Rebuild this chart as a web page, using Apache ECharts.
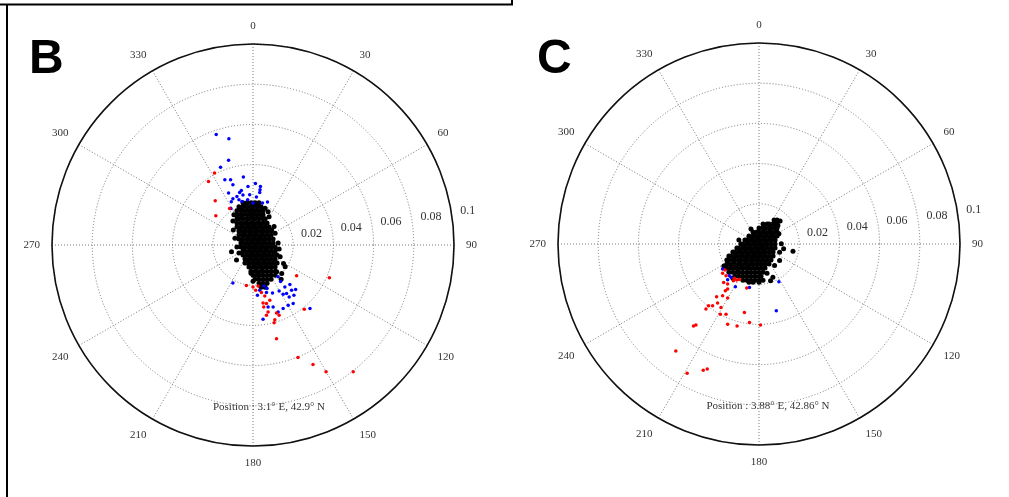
<!DOCTYPE html>
<html>
<head>
<meta charset="utf-8">
<script src="https://cdn.jsdelivr.net/npm/echarts@6/dist/echarts.min.js"></script>
<style>
html, body { margin:0; padding:0; background:#fff; }
#main { width:1009px; height:497px; }
</style>
</head>
<body>
<div id="main"></div>
<script>
// all offsets are [east, north] in units of 0.001
// panel B dense cloud, one row per north value: [north, [east values]]
var bBlackRows = [
    [21, [-5,-3,-1,1,3]],
    [19, [-7,-5,-3,-1,0,2,4]],
    [17, [-8,-6,-4,-2,-1,1,3,5]],
    [15, [-8,-6,-5,-3,-1,0,2,4,5]],
    [13, [-8,-7,-5,-3,-2,0,1,3,5,6]],
    [11, [-8,-6,-4,-3,-1,0,2,3,5,7]],
    [9, [-8,-6,-5,-3,-2,0,1,3,4,6,8]],
    [7, [-7,-6,-4,-2,-1,1,2,4,5,7,9]],
    [5, [-7,-5,-4,-2,-1,1,2,4,5,7,9]],
    [3, [-7,-5,-3,-2,0,1,3,4,6,8,10]],
    [1, [-6,-5,-3,-1,0,2,3,5,6,8,10]],
    [-1, [-6,-4,-2,-1,1,2,4,5,7,9,11]],
    [-3, [-5,-4,-2,0,1,3,4,6,7,9,11]],
    [-5, [-5,-3,-1,0,2,3,5,6,8,10,12]],
    [-7, [-4,-2,-1,1,2,4,5,7,9,11]],
    [-9, [-3,-2,0,2,3,5,6,8,10,12]],
    [-11, [-2,0,1,3,4,6,7,9,11]],
    [-13, [-1,1,2,4,5,7,9,11]],
    [-15, [0,2,3,5,7,9,11]],
    [-17, [1,3,5,7,9]],
    [-19, [3,5,7]],
    [-21, [4,6]]
];
var bBlackSparse = [
    [-10.7,-3.3], [-8.2,-7.5], [15.2,-9.2], [16,-10.8], [14.3,-14.2], [10.5,9.2],
    [9.3,7.5], [11,5.8], [-6.5,18.3], [-4,20], [1.8,20.8], [6,18.3], [-9.8,7.5],
    [-9,3.3], [13.5,-5.8], [11.8,-13.3], [-10,12], [8,14], [13,-2], [-7,-4],
    [-9.5,15], [7.5,16.5], [-8,-1], [12.5,1], [14,-17], [0,-18], [-4,-9], [-1,-14]
];
var bBlue = [
    [-18.3,55], [-12,52.9], [-12.15,42.15], [-16.15,38.65], [-14,32.5], [-11.15,32.5],
    [-10,30], [-4.8,33.85], [1.2,30.65], [3.7,29.15], [3.5,27.5], [3.35,26.15],
    [-2.5,29.15], [-5.8,27.15], [-6.65,26.15], [-8,24.15], [-7,22.5], [-5.5,21.65],
    [-5,24.85], [-10.8,21.5], [-10,23], [-12.15,25.85], [-11,18.15], [-1.65,25],
    [-2.65,22.5], [0,20.85], [1.7,23.85], [4.7,20.85], [7.2,21.35], [-10,-18.85],
    [5.5,-20.35], [7,-21.65], [6.7,-23.65], [9.7,-23.85], [12.5,-15.85], [13.7,-18.15],
    [15.85,-20.85], [13,-22.85], [15,-24.5], [16.7,-24.15], [18,-25.85], [19.2,-22.5],
    [20.35,-25], [21.2,-22.15], [20,-29.15], [17.5,-30], [15,-31.65], [12.5,-33.35],
    [10,-30.85], [7.5,-30.85], [5,-37], [28.35,-31.65], [18.35,-19.65], [3.35,-22.5],
    [2.2,-25]
];
var bRed = [
    [-19.15,35.85], [-22.15,31.65], [-18.8,22], [-18.5,14.5], [-11.65,18.15],
    [-3.3,-20.15], [0,-20.85], [2.5,-20.35], [1.35,-22.5], [4.2,-23.65], [5.85,-25.35],
    [5,-28.85], [6.7,-29.15], [5.35,-30.85], [7.5,-33.35], [6.7,-35], [11.7,-33.85],
    [13,-35], [10.85,-37.15], [10.5,-38.65], [11.7,-46.65], [21.7,-15.35], [38,-16.35],
    [25.5,-32], [8.35,-27.5], [22.35,-56], [29.85,-59.5], [36.35,-63], [49.85,-63]
];

// panel C
var cBlackRows = [
    [12, [7.5,9]],
    [10, [2,4,5,7,9]],
    [8, [0,2,3,5,6,8,9]],
    [6, [-3,-1,0,2,3,5,6,8,9]],
    [4, [-5,-3,-2,0,1,3,4,6,7,9]],
    [2, [-7,-6,-4,-3,-1,0,2,3,5,6,8]],
    [0, [-9,-8,-6,-5,-3,-2,0,1,3,4,6,8]],
    [-2, [-11,-10,-8,-7,-5,-4,-2,-1,1,2,4,6,8]],
    [-4, [-13,-12,-10,-9,-7,-6,-4,-3,-1,0,2,3,5,7]],
    [-6, [-15,-14,-12,-11,-9,-8,-6,-5,-3,-2,0,1,3,5,7]],
    [-8, [-16,-15,-13,-12,-10,-9,-7,-6,-4,-3,-1,0,2,4,6]],
    [-10, [-16,-15,-13,-12,-10,-9,-7,-6,-4,-3,-1,1,3,5]],
    [-12, [-16,-14,-12,-11,-9,-8,-6,-5,-3,-1,1,3]],
    [-14, [-15,-13,-11,-10,-8,-6,-4,-2,0,2]],
    [-16, [-12,-10,-8,-6,-4,-2,0,1]],
    [-18, [-8,-6,-4,-2,0,2]],
    [-19, [-5,-3,0]]
];
var cBlackSparse = [
    [16.9,-3.6], [10.25,-4.1], [12.25,-2.4], [7.75,-10.75], [6.9,-16.6], [5.75,-18.25],
    [8.9,10.9], [9.4,9.25], [11.1,0.1], [10.25,-8.25], [9.9,5.1], [-4,7.5], [-10,2],
    [-17.5,-11], [-13,-17], [4,-14.5], [10.5,11.5]
];
var cBlue = [
    [-18.1,-12.4], [-14.75,-15.75], [-13.9,-16.6], [-15.6,-17.75], [-11.75,-21.25],
    [-4.75,-21.6], [9.9,-18.75], [8.6,-33.25]
];
var cRed = [
    [-16.9,-12.9], [-18.1,-14.6], [-16.4,-15.75], [-17.6,-19.1], [-15.6,-19.9],
    [-12.75,-18.25], [-11.1,-17.9], [-12.25,-17.1], [-9.75,-17.6], [-6.1,-21.9],
    [-15.6,-22.4], [-16.75,-23.25], [-18.1,-25.75], [-15.6,-26.9], [-21.1,-26.25],
    [-23.1,-30.75], [-25.1,-30.75], [-26.4,-32.4], [-20.6,-29.4], [-18.9,-31.6],
    [-19.25,-34.9], [-16.4,-34.9], [-7.25,-34.1], [-4.75,-39.1], [0.75,-40.25],
    [-10.9,-40.75], [-15.6,-39.9], [-32.6,-40.75], [-31.4,-40.25], [-41.4,-53.25],
    [-35.75,-64.25], [-27.75,-62.75], [-25.75,-62.25]
];

var positionB = 'Position : 3.1° E, 42.9° N';
var positionC = 'Position : 3.88° E, 42.86° N';

var expandRows = function(rows){
    var out = [];
    rows.forEach(function(r){
        r[1].forEach(function(e){ out.push([e, r[0]]); });
    });
    return out;
};

// [east, north] -> [radius, compass angle]
var toPolar = function(pts){
    return pts.map(function(p){
        var e = p[0] / 1000, n = p[1] / 1000;
        var a = Math.atan2(e, n) * 180 / Math.PI;
        if (a < 0) a += 360;
        return [Math.sqrt(e * e + n * n), a];
    });
};

var centers = [[253, 245], [759, 244]];
var R = 201;
var serif = 'Liberation Serif';

var polars = [], angleAxes = [], radiusAxes = [];
centers.forEach(function(c, i){
    polars.push({ center: [c[0], c[1]], radius: R });
    angleAxes.push({
        polarIndex: i, type: 'value', min: 0, max: 360, interval: 30,
        startAngle: 90, clockwise: true,
        axisLine: { lineStyle: { color: '#111', width: 1.6 } },
        axisTick: { show: false },
        axisLabel: {
            margin: 12, color: '#333', fontFamily: serif, fontSize: 11, showMaxLabel: false,
            align: 'center', verticalAlign: 'middle'
        },
        splitLine: { lineStyle: { color: '#777', width: 1, type: [1, 2] } }
    });
    radiusAxes.push({
        polarIndex: i, type: 'value', min: 0, max: 0.1, interval: 0.02,
        axisLine: { show: false }, axisTick: { show: false }, axisLabel: { show: false },
        splitLine: { lineStyle: { color: '#777', width: 1, type: [1, 2] } }
    });
});
// second polar per panel only for the radius labels (tilted a bit above east)
centers.forEach(function(c, i){
    polars.push({ center: [c[0], c[1]], radius: R });
    angleAxes.push({
        polarIndex: i + 2, type: 'value', min: 0, max: 360, startAngle: 8, show: false
    });
    radiusAxes.push({
        polarIndex: i + 2, type: 'value', min: 0, max: 0.1, interval: 0.02,
        axisLine: { show: false }, axisTick: { show: false }, splitLine: { show: false },
        axisLabel: {
            showMinLabel: false, color: '#333', fontFamily: serif, fontSize: 12,
            margin: 6, align: 'left', padding: [0, 0, 0, 9]
        }
    });
});

var mk = function(idx, data, color, size){
    return {
        type: 'scatter', coordinateSystem: 'polar', polarIndex: idx,
        data: toPolar(data), symbol: 'circle', symbolSize: size,
        itemStyle: { color: color, opacity: 1 }, silent: true
    };
};

var series = [
    mk(0, expandRows(bBlackRows).concat(bBlackSparse), '#000', 5),
    mk(0, bBlue, '#0000ff', 3.5),
    mk(0, bRed, '#ff0000', 3.5),
    mk(1, expandRows(cBlackRows).concat(cBlackSparse), '#000', 5),
    mk(1, cBlue, '#0000ff', 3.5),
    mk(1, cRed, '#ff0000', 3.5)
];

var myChart = echarts.init(document.getElementById('main'));
option = {
    backgroundColor: '#fff',
    animation: false,
    polar: polars,
    angleAxis: angleAxes,
    radiusAxis: radiusAxes,
    series: series,
    graphic: [
        { type: 'line', shape: { x1: 0, y1: 4.5, x2: 513, y2: 4.5 }, style: { stroke: '#000', lineWidth: 2 } },
        { type: 'line', shape: { x1: 512, y1: 0, x2: 512, y2: 5 }, style: { stroke: '#000', lineWidth: 2 } },
        { type: 'line', shape: { x1: 7, y1: 4, x2: 7, y2: 497 }, style: { stroke: '#000', lineWidth: 2 } },
        { type: 'text', x: 29, y: 36, style: { text: 'B', font: 'bold 48px "Liberation Sans"', fill: '#000' } },
        { type: 'text', x: 537, y: 36, style: { text: 'C', font: 'bold 48px "Liberation Sans"', fill: '#000' } },
        { type: 'text', x: 269, y: 407, style: { text: positionB, font: '11px "Liberation Serif"', fill: '#333', align: 'center', verticalAlign: 'middle' } },
        { type: 'text', x: 768, y: 406, style: { text: positionC, font: '11px "Liberation Serif"', fill: '#333', align: 'center', verticalAlign: 'middle' } }
    ]
};
myChart.setOption(option);
</script>
</body>
</html>
